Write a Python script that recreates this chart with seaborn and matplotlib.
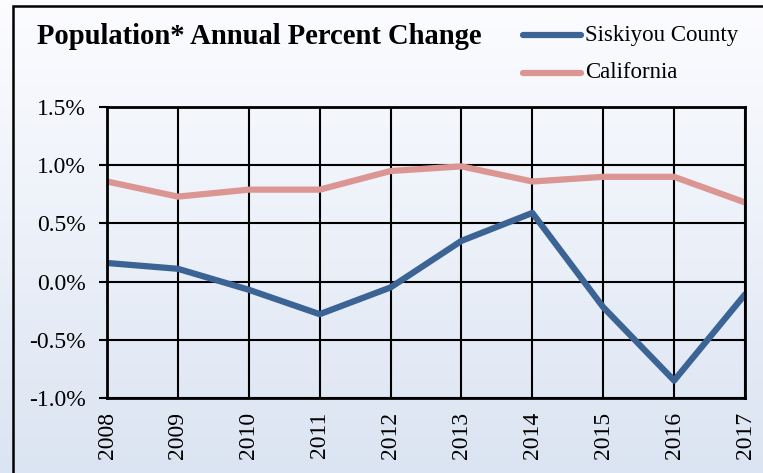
import numpy as np
import pandas as pd
import matplotlib.pyplot as plt
import seaborn as sns
from matplotlib.patches import Rectangle
from matplotlib.ticker import FuncFormatter

years = [2008, 2009, 2010, 2011, 2012, 2013, 2014, 2015, 2016, 2017]
siskiyou = [0.16, 0.11, -0.07, -0.28, -0.05, 0.35, 0.59, -0.22, -0.85, -0.11]
california = [0.86, 0.73, 0.79, 0.79, 0.95, 0.99, 0.86, 0.90, 0.90, 0.68]
series_names = ["Siskiyou County", "California"]
colors = ["#3B6394", "#DB9694"]

df = pd.DataFrame({"year": years, series_names[0]: siskiyou, series_names[1]: california})
long = df.melt(id_vars="year", var_name="series", value_name="pct")

sns.set_style("white")
plt.rcParams['font.family'] = ['Liberation Serif', 'DejaVu Serif']
plt.rcParams['text.color'] = 'black'
plt.rcParams['xtick.color'] = 'black'
plt.rcParams['ytick.color'] = 'black'

fig = plt.figure(figsize=(7.63, 4.73), dpi=100)

# gradient background over the whole figure
bg = fig.add_axes([0, 0, 1, 1], zorder=-10)
grad = np.linspace(0, 1, 256).reshape(-1, 1)
top = np.array([0.99, 0.99, 1.0])
bot = np.array([0.86, 0.895, 0.95])
img = top + (bot - top) * grad[:, :, None]
bg.imshow(img, aspect="auto", extent=[0, 1, 0, 1])
bg.set_axis_off()
# outer frame
fig.patches.append(Rectangle((13 / 763, -0.05), 1.0, 1 - 6 / 473 + 0.05,
                             transform=fig.transFigure, fill=False,
                             edgecolor="black", linewidth=1.8))

ax = fig.add_axes([107 / 763, 1 - 398 / 473, (745 - 107) / 763, (398 - 107) / 473])
ax.patch.set_alpha(0)

sns.lineplot(data=long, x="year", y="pct", hue="series", palette=colors,
             linewidth=4.5, ax=ax, legend=False)

ax.set_xlim(years[0], years[-1])
ax.set_ylim(-1.0, 1.5)
ax.set_xticks(years)
ax.set_xticklabels([str(y) for y in years], rotation=90)
ax.set_yticks(np.arange(-1.0, 1.51, 0.5))
ax.yaxis.set_major_formatter(FuncFormatter(lambda v, p: f"{v:.1f}%"))
ax.grid(True, color="black", linewidth=1.5)
ax.set_axisbelow(True)
for s in ax.spines.values():
    s.set_color("black")
    s.set_linewidth(2)
ax.tick_params(axis="y", length=6, width=1.5, pad=9, labelsize=17, left=True)
ax.tick_params(axis="x", length=0, pad=10, labelsize=17)
ax.set_xlabel("")
ax.set_ylabel("")

fig.text(37 / 763, 1 - 36 / 473, "Population* Annual Percent Change",
         fontsize=20.6, fontweight="bold", va="center", ha="left")

for i, name in enumerate(series_names):
    yy = 1 - (35 + 38 * i) / 473
    fig.add_artist(plt.Line2D([523 / 763, 581 / 763], [yy, yy], color=colors[i],
                              linewidth=4.5, solid_capstyle="round"))
    fig.text(585 / 763, yy, name, fontsize=16.5, va="center", ha="left")

fig.savefig("out.png", dpi=100)
